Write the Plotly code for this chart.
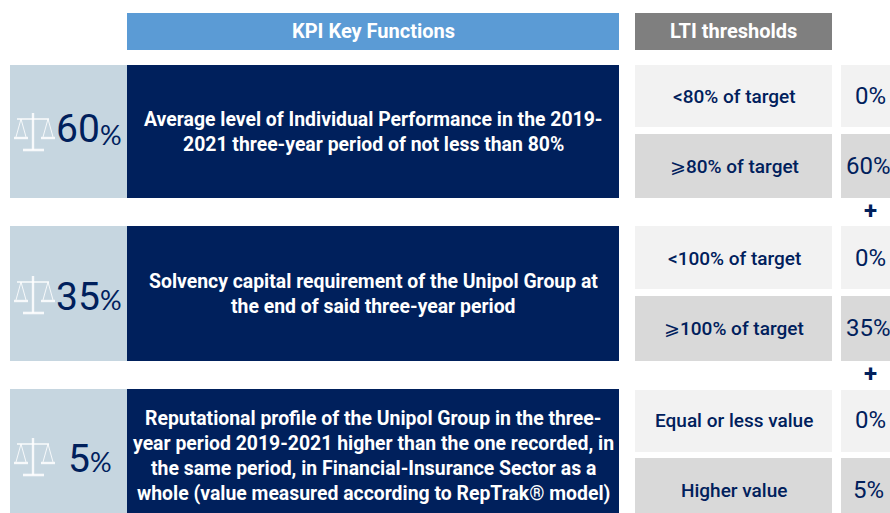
import plotly.graph_objects as go

# ---- content ----
header_kpi = "KPI Key Functions"
header_lti = "LTI thresholds"
weights = ["60", "35", "5"]
kpi_lines = [
    ["Average level of Individual Performance in the 2019-",
     "2021 three-year period of not less than 80%"],
    ["Solvency capital requirement of the Unipol Group at",
     "the end of said three-year period"],
    ["Reputational profile of the Unipol Group in the three-",
     "year period 2019-2021 higher than the one recorded, in",
     "the same period, in Financial-Insurance Sector as a",
     "whole (value measured according to RepTrak® model)"],
]
low_labels = ["<80% of target", "<100% of target", "Equal or less value"]
high_labels = ["⩾80% of target", "⩾100% of target", "Higher value"]
low_payout = ["0%", "0%", "0%"]
high_payout = ["60%", "35%", "5%"]

# ---- layout ----
W, H = 890, 513
NAVY, BLUE, GREY = "#00205C", "#5B9BD5", "#7F7F7F"
SIDE, LIGHT, MID = "#C6D6E0", "#F2F2F2", "#D9D9D9"
FONT = "Roboto, sans-serif"
row_spans = [(65, 198), (226, 361), (389, 520)]
low_spans = [(65, 127), (226, 289), (390, 452)]
high_spans = [(134, 198), (296, 361), (458, 520)]
low_text_y = [96, 258, 420]
high_text_y = [166, 328, 490]
kpi_text_y = [[119, 144], [281, 306], [418, 443, 468, 493]]
weight_x = [100, 100, 90]
weight_y = [129, 297, 459]
percent_y = [134, 299, 461]
icon_top = [113, 276, 438]
plus_y = [211, 374]

shapes, ann = [], []


def rect(x0, x1, y0, y1, color):
    shapes.append(dict(type="rect", x0=x0, x1=x1, y0=y0, y1=y1,
                       fillcolor=color, line_width=0, layer="below"))


def line(x0, y0, x1, y1, w=1.6, color="rgba(255,255,255,0.85)"):
    shapes.append(dict(type="line", x0=x0, y0=y0, x1=x1, y1=y1,
                       line=dict(color=color, width=w)))


def text(x, y, s, size, color="white", anchor="center", weight=400, font=FONT):
    ann.append(dict(x=x, y=y, text=s, showarrow=False,
                    xanchor=anchor, yanchor="middle", borderpad=0, borderwidth=0,
                    font=dict(family=font, size=size, color=color, weight=weight)))


def scale_icon(cx, top):
    line(cx, top, cx, top + 37, 2.4)
    line(cx - 10, top + 37, cx + 11, top + 37, 2.6)
    line(cx - 16, top + 6, cx + 16, top + 6, 1.6)
    for px in (cx - 12, cx + 15):
        line(px, top + 6, px - 5, top + 24, 1)
        line(px, top + 6, px + 5, top + 24, 1)
        line(px - 7, top + 25, px + 7, top + 25, 2.4)


rect(127, 619, 13, 50, BLUE)
rect(635, 832, 13, 50, GREY)
text(373, 31, header_kpi, 20, weight=700)
text(733, 31, header_lti, 20, weight=700)

for i, (y0, y1) in enumerate(row_spans):
    rect(10, 127, y0, y1, SIDE)
    rect(127, 619, y0, y1, NAVY)
    rect(635, 832, *low_spans[i], LIGHT)
    rect(841, 900, *low_spans[i], LIGHT)
    rect(635, 832, *high_spans[i], MID)
    rect(841, 900, *high_spans[i], MID)
    scale_icon(33, icon_top[i])
    text(weight_x[i], weight_y[i], weights[i], 39, NAVY, "right")
    text(weight_x[i], percent_y[i], "%", 27, NAVY, "left", font="Lato, sans-serif")
    for s, y in zip(kpi_lines[i], kpi_text_y[i]):
        text(373, y, s, 19.4, weight=700)
    text(734, low_text_y[i], low_labels[i], 19, NAVY, weight=500)
    text(734, high_text_y[i], high_labels[i], 19, NAVY, weight=500)
    text(870, low_text_y[i], low_payout[i], 24, NAVY)
    text(868, high_text_y[i], high_payout[i], 24, NAVY)
for y in plus_y:
    text(870, y, "+", 24, NAVY, weight=700)

fig = go.Figure()
fig.update_layout(width=W, height=H, margin=dict(l=0, r=0, t=0, b=0),
                  paper_bgcolor="white", plot_bgcolor="white",
                  xaxis=dict(range=[0, W], visible=False, fixedrange=True),
                  yaxis=dict(range=[H, 0], visible=False, fixedrange=True),
                  shapes=shapes, annotations=ann, showlegend=False)
fig.write_html("out.html", config={"displayModeBar": False},
               post_script="document.body.style.margin='0';document.body.style.overflow='hidden';")
